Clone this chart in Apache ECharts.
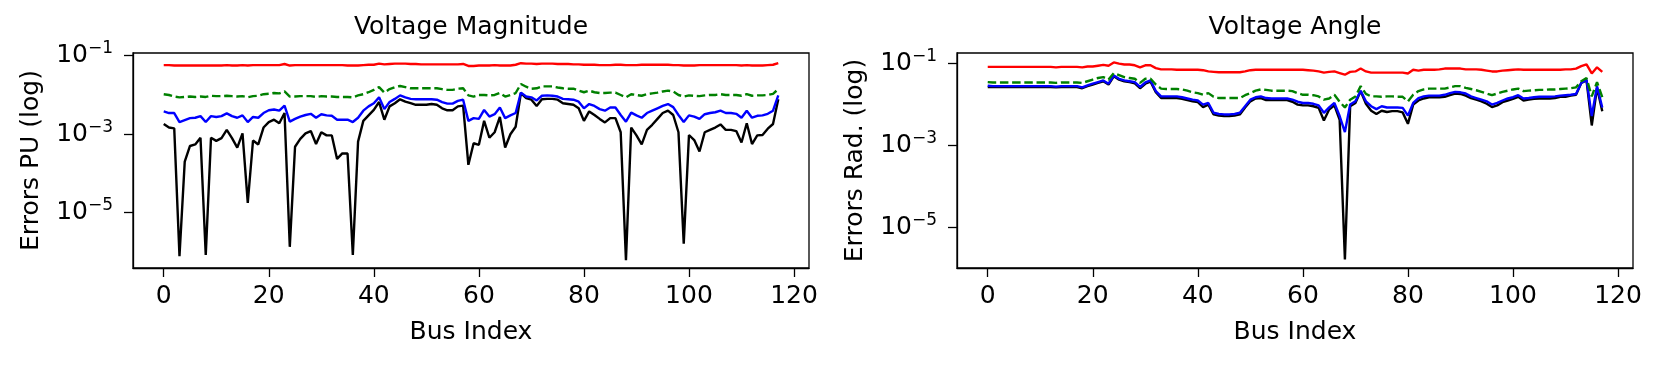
<!DOCTYPE html>
<html>
<head>
<meta charset="utf-8">
<script src="https://cdn.jsdelivr.net/npm/echarts@6/dist/echarts.min.js"></script>
<style>
  html, body { margin: 0; padding: 0; background: #fff; }
  #chart { width: 1661px; height: 366px; }
</style>
</head>
<body>
<div id="chart"></div>
<script>
// Errors per bus, stored as log10 exponents.
var xTicks = [0, 20, 40, 60, 80, 100, 120];
var yTicks = [-1, -3, -5];

var magRed = [
  -1.24,-1.24,-1.25,-1.25,-1.25,-1.25,-1.25,-1.25,-1.25,-1.25,
  -1.25,-1.25,-1.24,-1.25,-1.25,-1.24,-1.25,-1.24,-1.24,-1.24,
  -1.24,-1.24,-1.24,-1.21,-1.25,-1.24,-1.24,-1.24,-1.24,-1.24,
  -1.24,-1.24,-1.24,-1.24,-1.24,-1.25,-1.25,-1.25,-1.24,-1.23,
  -1.23,-1.20,-1.22,-1.21,-1.20,-1.20,-1.20,-1.21,-1.21,-1.22,
  -1.22,-1.22,-1.22,-1.22,-1.22,-1.22,-1.22,-1.21,-1.26,-1.26,
  -1.25,-1.25,-1.25,-1.24,-1.25,-1.25,-1.25,-1.23,-1.19,-1.20,
  -1.20,-1.21,-1.20,-1.20,-1.20,-1.21,-1.21,-1.21,-1.22,-1.22,
  -1.23,-1.23,-1.23,-1.24,-1.24,-1.24,-1.23,-1.23,-1.24,-1.24,
  -1.24,-1.23,-1.23,-1.23,-1.23,-1.23,-1.23,-1.24,-1.24,-1.25,
  -1.25,-1.25,-1.24,-1.24,-1.24,-1.24,-1.24,-1.24,-1.24,-1.24,
  -1.25,-1.24,-1.25,-1.25,-1.25,-1.24,-1.23,-1.19
];
var magGreen = [
  -1.98,-2.00,-2.04,-2.06,-2.05,-2.04,-2.05,-2.04,-2.05,-2.02,
  -2.03,-2.03,-2.02,-2.03,-2.04,-2.03,-2.06,-2.03,-2.02,-1.98,
  -1.97,-1.95,-1.96,-1.91,-2.04,-2.04,-2.03,-2.03,-2.03,-2.05,
  -2.03,-2.04,-2.04,-2.05,-2.05,-2.05,-2.06,-2.01,-1.98,-1.93,
  -1.87,-1.80,-1.94,-1.85,-1.80,-1.77,-1.80,-1.83,-1.83,-1.83,
  -1.83,-1.83,-1.83,-1.85,-1.87,-1.87,-1.84,-1.83,-2.01,-2.04,
  -2.00,-2.00,-2.01,-2.00,-1.95,-2.04,-2.00,-1.95,-1.72,-1.79,
  -1.84,-1.83,-1.78,-1.78,-1.78,-1.81,-1.83,-1.84,-1.84,-1.89,
  -1.93,-1.89,-1.93,-1.95,-1.95,-1.94,-1.94,-2.00,-2.06,-1.98,
  -2.00,-2.02,-1.98,-1.96,-1.94,-1.91,-1.89,-1.91,-2.00,-2.04,
  -2.01,-2.02,-2.03,-2.01,-2.00,-2.00,-1.98,-2.00,-2.00,-2.00,
  -2.02,-1.98,-2.02,-2.01,-2.01,-2.00,-1.97,-1.85
];
var magBlue = [
  -2.42,-2.46,-2.46,-2.69,-2.64,-2.59,-2.58,-2.54,-2.69,-2.54,
  -2.56,-2.54,-2.47,-2.54,-2.58,-2.52,-2.69,-2.56,-2.58,-2.46,
  -2.39,-2.37,-2.40,-2.27,-2.68,-2.61,-2.55,-2.51,-2.48,-2.58,
  -2.49,-2.52,-2.53,-2.63,-2.63,-2.63,-2.69,-2.58,-2.40,-2.29,
  -2.21,-2.06,-2.36,-2.18,-2.10,-2.01,-2.06,-2.10,-2.11,-2.11,
  -2.11,-2.11,-2.12,-2.18,-2.22,-2.22,-2.15,-2.12,-2.66,-2.59,
  -2.61,-2.38,-2.55,-2.49,-2.32,-2.59,-2.52,-2.46,-1.94,-2.04,
  -2.06,-2.14,-2.02,-2.01,-2.02,-2.04,-2.10,-2.11,-2.12,-2.17,
  -2.34,-2.23,-2.28,-2.36,-2.40,-2.32,-2.32,-2.51,-2.68,-2.45,
  -2.52,-2.58,-2.46,-2.40,-2.34,-2.28,-2.23,-2.31,-2.51,-2.69,
  -2.52,-2.55,-2.61,-2.49,-2.46,-2.44,-2.40,-2.46,-2.46,-2.48,
  -2.58,-2.40,-2.58,-2.53,-2.52,-2.48,-2.40,-2.01
];
var magBlack = [
  -2.74,-2.83,-2.85,-6.11,-3.70,-3.30,-3.26,-3.09,-6.08,-3.09,
  -3.17,-3.10,-2.89,-3.10,-3.34,-2.98,-4.75,-3.16,-3.26,-2.83,
  -2.69,-2.63,-2.72,-2.46,-5.87,-3.32,-3.12,-2.98,-2.92,-3.25,
  -2.95,-3.03,-3.03,-3.63,-3.49,-3.49,-6.08,-3.19,-2.66,-2.52,
  -2.38,-2.18,-2.63,-2.29,-2.21,-2.11,-2.17,-2.21,-2.25,-2.25,
  -2.25,-2.23,-2.25,-2.34,-2.39,-2.39,-2.29,-2.27,-3.78,-3.23,
  -3.27,-2.66,-3.09,-2.95,-2.56,-3.34,-3.00,-2.81,-1.95,-2.08,
  -2.12,-2.28,-2.11,-2.10,-2.10,-2.12,-2.21,-2.23,-2.25,-2.34,
  -2.66,-2.42,-2.51,-2.61,-2.70,-2.59,-2.59,-2.95,-6.21,-2.83,
  -3.03,-3.26,-2.89,-2.76,-2.61,-2.46,-2.40,-2.51,-2.95,-5.79,
  -3.02,-3.15,-3.44,-2.95,-2.89,-2.83,-2.75,-2.89,-2.89,-2.92,
  -3.21,-2.72,-3.25,-3.03,-3.02,-2.86,-2.74,-2.11
];

var angRed = [
  -1.08,-1.08,-1.08,-1.08,-1.08,-1.08,-1.08,-1.08,-1.08,-1.08,
  -1.08,-1.08,-1.08,-1.09,-1.08,-1.08,-1.08,-1.08,-1.09,-1.07,
  -1.07,-1.05,-1.03,-1.05,-0.97,-1.00,-1.02,-1.02,-1.04,-1.09,
  -1.04,-1.04,-1.11,-1.14,-1.14,-1.14,-1.15,-1.15,-1.15,-1.15,
  -1.15,-1.16,-1.19,-1.20,-1.21,-1.21,-1.21,-1.21,-1.21,-1.19,
  -1.16,-1.15,-1.15,-1.15,-1.15,-1.15,-1.15,-1.15,-1.15,-1.15,
  -1.15,-1.16,-1.17,-1.19,-1.22,-1.20,-1.19,-1.23,-1.27,-1.20,
  -1.19,-1.12,-1.19,-1.22,-1.22,-1.22,-1.22,-1.22,-1.22,-1.22,
  -1.24,-1.15,-1.17,-1.15,-1.15,-1.15,-1.14,-1.12,-1.12,-1.12,
  -1.12,-1.14,-1.14,-1.14,-1.15,-1.17,-1.19,-1.19,-1.17,-1.16,
  -1.15,-1.14,-1.15,-1.15,-1.15,-1.15,-1.15,-1.15,-1.15,-1.15,
  -1.14,-1.14,-1.12,-1.06,-1.02,-1.24,-1.09,-1.20
];
var angGreen = [
  -1.45,-1.46,-1.46,-1.46,-1.46,-1.46,-1.46,-1.46,-1.46,-1.46,
  -1.46,-1.46,-1.46,-1.47,-1.46,-1.46,-1.46,-1.46,-1.47,-1.43,
  -1.39,-1.35,-1.33,-1.39,-1.23,-1.28,-1.33,-1.35,-1.37,-1.47,
  -1.37,-1.37,-1.51,-1.61,-1.62,-1.62,-1.62,-1.63,-1.66,-1.70,
  -1.72,-1.76,-1.72,-1.81,-1.84,-1.84,-1.84,-1.84,-1.84,-1.77,
  -1.72,-1.66,-1.63,-1.64,-1.66,-1.66,-1.66,-1.66,-1.67,-1.72,
  -1.76,-1.76,-1.77,-1.80,-1.88,-1.85,-1.76,-1.93,-2.07,-1.88,
  -1.80,-1.55,-1.74,-1.80,-1.80,-1.81,-1.80,-1.80,-1.81,-1.81,
  -1.92,-1.76,-1.67,-1.63,-1.61,-1.61,-1.61,-1.61,-1.58,-1.55,
  -1.55,-1.59,-1.62,-1.65,-1.69,-1.73,-1.77,-1.73,-1.69,-1.66,
  -1.63,-1.61,-1.67,-1.66,-1.65,-1.64,-1.64,-1.63,-1.63,-1.62,
  -1.61,-1.60,-1.58,-1.43,-1.35,-1.80,-1.45,-1.82
];
var angBlue = [
  -1.54,-1.55,-1.55,-1.55,-1.55,-1.55,-1.55,-1.55,-1.55,-1.55,
  -1.55,-1.55,-1.55,-1.56,-1.55,-1.55,-1.55,-1.55,-1.58,-1.53,
  -1.49,-1.45,-1.41,-1.49,-1.29,-1.37,-1.41,-1.43,-1.45,-1.57,
  -1.46,-1.41,-1.67,-1.80,-1.80,-1.80,-1.80,-1.82,-1.85,-1.88,
  -1.90,-2.00,-1.96,-2.20,-2.23,-2.24,-2.24,-2.23,-2.20,-2.04,
  -1.88,-1.82,-1.80,-1.84,-1.85,-1.85,-1.85,-1.85,-1.88,-1.93,
  -1.96,-1.96,-1.98,-2.02,-2.20,-2.07,-1.96,-2.28,-2.67,-2.00,
  -1.92,-1.66,-1.92,-2.04,-2.11,-2.04,-2.07,-2.07,-2.07,-2.08,
  -2.27,-1.96,-1.84,-1.80,-1.78,-1.78,-1.78,-1.76,-1.72,-1.69,
  -1.70,-1.73,-1.80,-1.84,-1.88,-1.92,-2.00,-1.96,-1.90,-1.85,
  -1.82,-1.77,-1.85,-1.84,-1.82,-1.81,-1.81,-1.81,-1.80,-1.78,
  -1.77,-1.76,-1.74,-1.47,-1.39,-2.28,-1.55,-2.07
];
var angBlack = [
  -1.57,-1.57,-1.57,-1.57,-1.57,-1.57,-1.57,-1.57,-1.57,-1.57,
  -1.57,-1.57,-1.57,-1.58,-1.57,-1.57,-1.57,-1.57,-1.60,-1.55,
  -1.51,-1.47,-1.43,-1.51,-1.31,-1.39,-1.43,-1.45,-1.48,-1.60,
  -1.49,-1.44,-1.70,-1.84,-1.84,-1.84,-1.84,-1.86,-1.89,-1.92,
  -1.94,-2.06,-2.00,-2.24,-2.27,-2.28,-2.28,-2.27,-2.24,-2.07,
  -1.92,-1.85,-1.84,-1.89,-1.89,-1.89,-1.89,-1.89,-1.93,-2.00,
  -2.02,-2.02,-2.04,-2.08,-2.39,-2.12,-2.02,-2.37,-5.78,-2.04,
  -1.96,-1.67,-1.98,-2.15,-2.23,-2.15,-2.18,-2.16,-2.16,-2.19,
  -2.47,-2.00,-1.90,-1.85,-1.82,-1.82,-1.82,-1.81,-1.77,-1.73,
  -1.74,-1.78,-1.84,-1.88,-1.92,-1.98,-2.06,-2.02,-1.94,-1.90,
  -1.86,-1.81,-1.90,-1.88,-1.86,-1.85,-1.85,-1.85,-1.84,-1.81,
  -1.81,-1.78,-1.76,-1.47,-1.41,-2.51,-1.59,-2.16
];

var FONT = "DejaVu Sans, Liberation Sans, sans-serif";

function pairs(arr) {
  return arr.map(function (v, i) { return [i, v]; });
}

function lineSeries(arr, color, gridIdx, dashed) {
  return {
    type: "line",
    xAxisIndex: gridIdx,
    yAxisIndex: gridIdx,
    data: pairs(arr),
    symbol: "none",
    silent: true,
    lineStyle: { color: color, width: 2.4, type: dashed ? [8.5, 3.7] : "solid" },
    animation: false
  };
}

function xAxisFor(gridIdx) {
  return {
    type: "value", gridIndex: gridIdx, min: -5.85, max: 122.85,
    name: "Bus Index", nameLocation: "middle", nameGap: 52,
    nameTextStyle: { fontFamily: FONT, fontSize: 25, color: "#000" },
    axisLine: { show: true, onZero: false, lineStyle: { color: "#000", width: 1.3 } },
    axisTick: { show: true, length: 9, customValues: xTicks,
                lineStyle: { color: "#000", width: 1.3 } },
    axisLabel: { customValues: xTicks, margin: 16, fontFamily: FONT,
                 fontSize: 25, color: "#000" },
    splitLine: { show: false }
  };
}

function yAxisFor(gridIdx, name, lo, hi) {
  return {
    type: "value", gridIndex: gridIdx, min: lo, max: hi,
    name: name, nameLocation: "middle", nameGap: 89, nameRotate: 90,
    nameTextStyle: { fontFamily: FONT, fontSize: 25, color: "#000" },
    axisLine: { show: true, onZero: false, lineStyle: { color: "#000", width: 1.3 } },
    axisTick: { show: true, length: 9, customValues: yTicks,
                lineStyle: { color: "#000", width: 1.3 } },
    axisLabel: {
      customValues: yTicks, margin: 20,
      formatter: function (v) { return "{b|10}{s|\u2212" + Math.round(-v) + "}"; },
      rich: {
        b: { fontFamily: FONT, fontSize: 25, color: "#000" },
        s: { fontFamily: FONT, fontSize: 17, color: "#000", padding: [0, 0, 14, 0] }
      }
    },
    splitLine: { show: false }
  };
}

var chart = echarts.init(document.getElementById("chart"), null, { renderer: "canvas" });
chart.setOption({
  backgroundColor: "#fff",
  animation: false,
  graphic: [
    { type: "text", x: 471, y: 27, style: { text: "Voltage Magnitude", font: "25px " + FONT,
      fill: "#000", textAlign: "center", textVerticalAlign: "middle" } },
    { type: "text", x: 1295, y: 27, style: { text: "Voltage Angle", font: "25px " + FONT,
      fill: "#000", textAlign: "center", textVerticalAlign: "middle" } }
  ],
  grid: [
    { left: 133, top: 53, width: 676, height: 215, show: true,
      borderColor: "#000", borderWidth: 1.3, backgroundColor: "transparent" },
    { left: 957, top: 53, width: 676, height: 215, show: true,
      borderColor: "#000", borderWidth: 1.3, backgroundColor: "transparent" }
  ],
  xAxis: [xAxisFor(0), xAxisFor(1)],
  yAxis: [
    yAxisFor(0, "Errors PU (log)", -6.41, -0.93),
    yAxisFor(1, "Errors Rad. (log)", -5.99, -0.74)
  ],
  series: [
    lineSeries(magBlack, "#000000", 0, false),
    lineSeries(magBlue, "#0000ff", 0, false),
    lineSeries(magGreen, "#008000", 0, true),
    lineSeries(magRed, "#ff0000", 0, false),
    lineSeries(angBlack, "#000000", 1, false),
    lineSeries(angBlue, "#0000ff", 1, false),
    lineSeries(angGreen, "#008000", 1, true),
    lineSeries(angRed, "#ff0000", 1, false)
  ]
});
</script>
</body>
</html>
